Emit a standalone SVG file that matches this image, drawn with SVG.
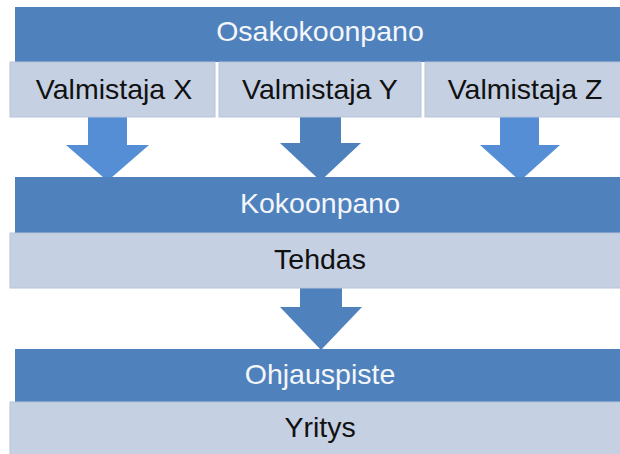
<svg xmlns="http://www.w3.org/2000/svg" width="620" height="454" viewBox="0 0 620 454">
<style>
.dark{fill:#4F81BD}
.light{fill:#C5D0E3;stroke:#B8C4DA;stroke-width:1}
.tw{font-family:"Liberation Sans",Arial,sans-serif;font-size:28.5px;fill:#F4F6FA;text-anchor:middle}
.tb{font-family:"Liberation Sans",Arial,sans-serif;font-size:28.5px;fill:#111111;text-anchor:middle}
.arrS{fill:#558ED5}
.arrM{fill:#4F81BD}
</style>
<rect width="620" height="454" fill="#FFFFFF"/>
<g id="connectors">
<polygon class="arrS" points="88,112 127,112 127,145 149,145 107.5,181 66,145 88,145"/>
<polygon class="arrM" points="300,116 341,116 341,143 361,143 320.5,181 280,143 300,143"/>
<polygon class="arrS" points="500,112 539,112 539,145 560,145 520,181 480,145 500,145"/>
<polygon class="arrM" points="300,287 342,287 342,307 362,307 321,350 280,307 300,307"/>
</g>
<g id="osakokoonpano">
<rect class="dark" x="15" y="7" width="610" height="55"/>
<text class="tw" x="320" y="41">Osakokoonpano</text>
</g>
<g id="valmistaja-x">
<rect class="light" x="10" y="62" width="205" height="55"/>
<text class="tb" x="114" y="99">Valmistaja X</text>
</g>
<g id="valmistaja-y">
<rect class="light" x="219" y="62" width="202" height="55"/>
<text class="tb" x="320" y="99">Valmistaja Y</text>
</g>
<g id="valmistaja-z">
<rect class="light" x="425" y="62" width="200" height="55"/>
<text class="tb" x="525" y="99">Valmistaja Z</text>
</g>
<g id="kokoonpano">
<rect class="dark" x="15" y="177" width="610" height="56"/>
<text class="tw" x="320" y="213">Kokoonpano</text>
</g>
<g id="tehdas">
<rect class="light" x="10" y="233" width="615" height="55"/>
<text class="tb" x="320" y="269">Tehdas</text>
</g>
<g id="ohjauspiste">
<rect class="dark" x="15" y="349" width="610" height="53"/>
<text class="tw" x="320" y="384">Ohjauspiste</text>
</g>
<g id="yritys">
<rect class="light" x="10" y="402" width="615" height="60"/>
<text class="tb" x="320" y="437">Yritys</text>
</g>
</svg>
